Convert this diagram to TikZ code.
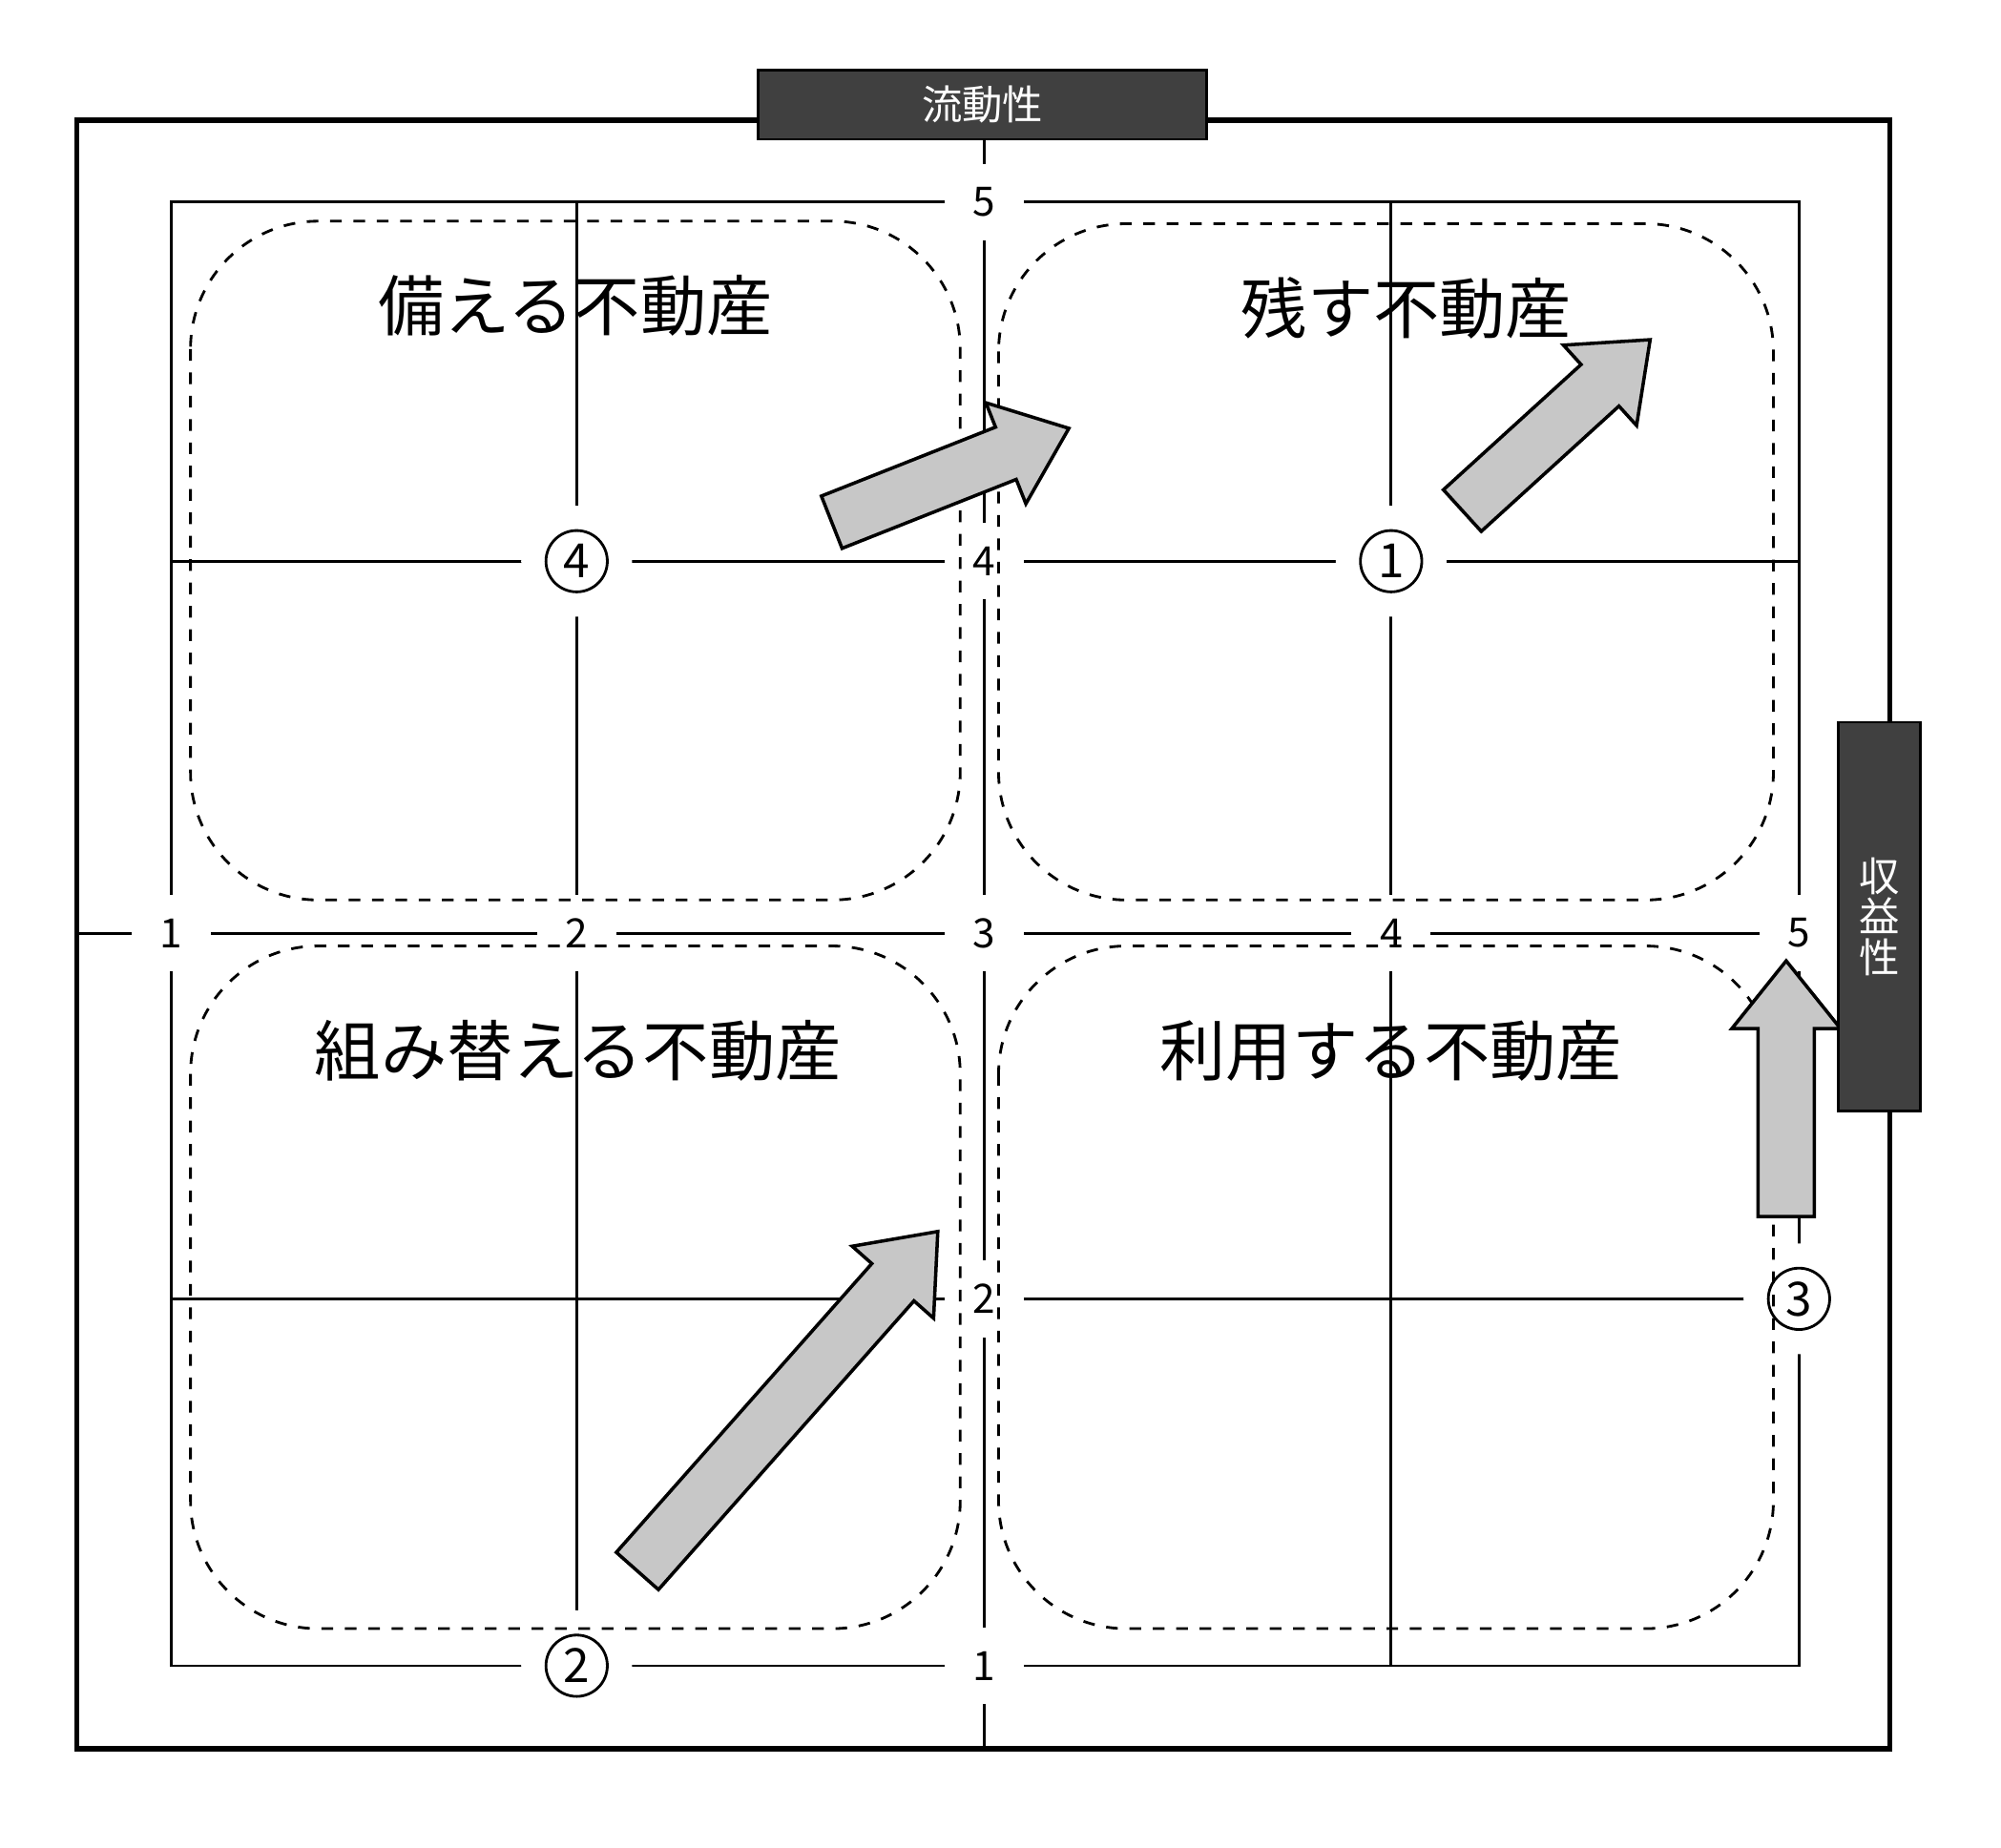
\documentclass[tikz,border=0pt]{standalone}
\usepackage{fontspec}
\setmainfont{Noto Sans CJK JP}
\usetikzlibrary{calc}
\def\blockarrow(#1)(#2:#3){\draw[blockarrow, shift={(#1)}, rotate=#2] (0,-22) -- ({#3-53},-22) -- ({#3-53},-42.5) -- (#3,0) -- ({#3-53},42.5) -- ({#3-53},22) -- (0,22) -- cycle}

\tikzset{
	outerframe/.style={line width=1.1pt},
	gridline/.style={line width=0.6pt},
	quadrant/.style={line width=0.6pt, dash pattern=on 2.6pt off 2.6pt, rounded corners=10mm},
	axisnum/.style={fill=white, inner sep=0pt, minimum width=6.2mm, minimum height=6mm, font=\fontsize{9}{9}\selectfont},
	circnum/.style={circle, draw, line width=0.6pt, fill=white, inner sep=0pt, minimum size=4.8mm, preaction={draw=white, line width=11pt}, font=\fontsize{10.5}{10.5}\selectfont},
	quadtitle/.style={inner sep=0pt, font=\fontsize{14.7}{16}\selectfont},
	axisbox/.style={draw, line width=0.6pt, fill=black!75, text=white, inner sep=0pt, font=\fontsize{9}{9}\selectfont},
	blockarrow/.style={draw, line width=0.75pt, fill=black!22, line join=miter},
}

\begin{document}
\begin{tikzpicture}[x=0.1mm, y=-0.1mm]
		%%%%% START %%%%%
		\useasboundingbox (0, 0) rectangle (1565, 1445);
		
		\draw[outerframe] (60, 94) rectangle (1478, 1368);
		
		\draw[gridline] (134, 158) rectangle (1407, 1303);
		\draw[gridline] (451, 158) -- (451, 1303);
		\draw[gridline] (1088, 158) -- (1088, 1303);
		\draw[gridline] (134, 439) -- (1407, 439);
		\draw[gridline] (134, 1016) -- (1407, 1016);
		
		\draw[gridline] (770, 109) -- (770, 1368);
		\draw[gridline] (60, 730) -- (1407, 730);
		
		\node[axisnum] (h1) at (134, 730) {1};
		\node[axisnum] (h2) at (451, 730) {2};
		\node[axisnum] (h3) at (770, 730) {3};
		\node[axisnum] (h4) at (1088, 730) {4};
		\node[axisnum] (h5) at (1407, 730) {5};
		
		\node[axisnum] (v5) at (770, 158) {5};
		\node[axisnum] (v4) at (770, 439) {4};
		\node[axisnum] (v2) at (770, 1016) {2};
		\node[axisnum] (v1) at (770, 1303) {1};
		
		\node[circnum] (c1) at (1088, 439) {1};
		\node[circnum] (c2) at (451, 1303) {2};
		\node[circnum] (c3) at (1407, 1016) {3};
		\node[circnum] (c4) at (451, 439) {4};
		
		\draw[quadrant] (149, 173) rectangle (751, 704);
		\draw[quadrant] (781, 175) rectangle (1387, 704);
		\draw[quadrant] (149, 740) rectangle (751, 1274);
		\draw[quadrant] (781, 740) rectangle (1387, 1274);
		
		\node[quadtitle] (prepare) at (450, 239) {備える不動産};
		\node[quadtitle] (keep) at (1100, 241) {残す不動産};
		\node[quadtitle] (reform) at (452, 822) {組み替える不動産};
		\node[quadtitle] (use) at (1088, 822) {利用する不動産};
		
		\blockarrow(650.5, 408.5)(21.6:199.5);
		\blockarrow(1143.7, 399.4)(42.3:198.6);
		\blockarrow(498.5, 1228.9)(48.5:354.6);
		\blockarrow(1397, 951.6)(90:200);
		
		\node[axisbox, minimum width=35.1mm, minimum height=5.4mm] (liquidity) at (768.5, 82) {流動性};
		\node[axisbox, minimum width=6.4mm, minimum height=30.4mm, align=center] (yield) at (1470, 717) {収\\益\\性};
		
		%%%%% END %%%%%
	\end{tikzpicture}
\end{document}
